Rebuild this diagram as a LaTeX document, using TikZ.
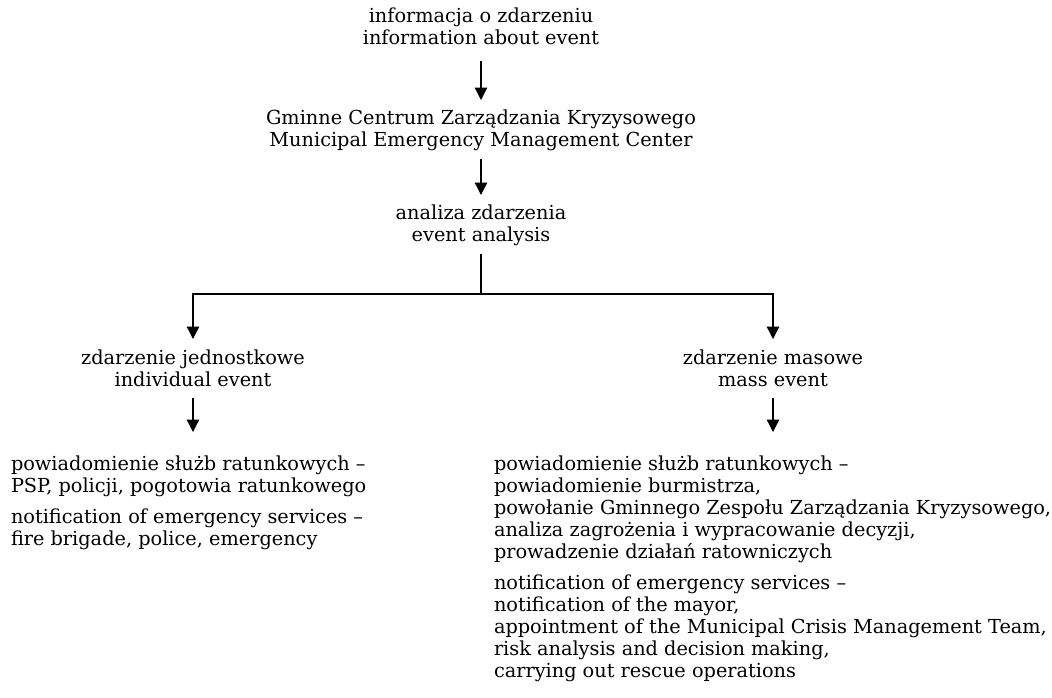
\documentclass[tikz,border=0pt]{standalone}
\usepackage{fontspec}
\setmainfont{DejaVu Serif}
\usetikzlibrary{arrows.meta}
\newcommand{\hiA}{\rule{0pt}{16pt}}
\newcommand{\loA}{\rule[-6pt]{0pt}{6pt}}
\begin{document}
\begin{tikzpicture}[x=1pt,y=1pt,
  txt/.style={inner sep=0pt, outer sep=0pt, font=\fontsize{19.3}{22}\selectfont, text=black},
  ctxt/.style={txt, align=center, anchor=north},
  ltxt/.style={txt, align=left, anchor=north west},
  conn/.style={line width=1.3pt, draw=black},
  arr/.style={conn, -{Triangle[width=12.5pt,length=12.5pt]}}]
\useasboundingbox (0,0) rectangle (1052,-697);
\node[ctxt] (info) at (481,-6) {\hiA informacja o zdarzeniu\\information about event\loA};
\node[ctxt] (gminne) at (481,-108) {\hiA Gminne Centrum Zarządzania Kryzysowego\\Municipal Emergency Management Center\loA};
\node[ctxt] (analiza) at (481,-203) {\hiA analiza zdarzenia\\event analysis\loA};
\coordinate (split) at (481,-294);
\node[ctxt] (indiv) at (193,-348) {\hiA zdarzenie jednostkowe\\individual event\loA};
\node[ctxt] (mass) at (773,-348) {\hiA zdarzenie masowe\\mass event\loA};
\node[ltxt] (lblock) at (11,-454) {\hiA powiadomienie służb ratunkowych –\\
PSP, policji, pogotowia ratunkowego\\[9pt]
notification of emergency services –\\
fire brigade, police, emergency\loA};
\node[ltxt] (rblock) at (494,-454) {\hiA powiadomienie służb ratunkowych –\\
powiadomienie burmistrza,\\
powołanie Gminnego Zespołu Zarządzania Kryzysowego,\\
analiza zagrożenia i wypracowanie decyzji,\\
prowadzenie działań ratowniczych\\[9pt]
notification of emergency services –\\
notification of the mayor,\\
appointment of the Municipal Crisis Management Team,\\
risk analysis and decision making,\\
carrying out rescue operations\loA};
\draw[arr] ([yshift=-11pt]info.south) -- ([yshift=8pt]gminne.north);
\draw[arr] ([yshift=-7pt]gminne.south) -- ([yshift=8pt]analiza.north);
\draw[conn] ([yshift=-6.5pt]analiza.south) -- (split);
\draw[arr] (split) -| ([yshift=9pt]indiv.north);
\draw[arr] (split) -| ([yshift=9pt]mass.north);
\draw[arr] ([yshift=-6pt]indiv.south) -- ([yshift=22pt]indiv.south |- lblock.north);
\draw[arr] ([yshift=-6pt]mass.south) -- ([yshift=22pt]mass.south |- rblock.north);
\end{tikzpicture}
\end{document}
